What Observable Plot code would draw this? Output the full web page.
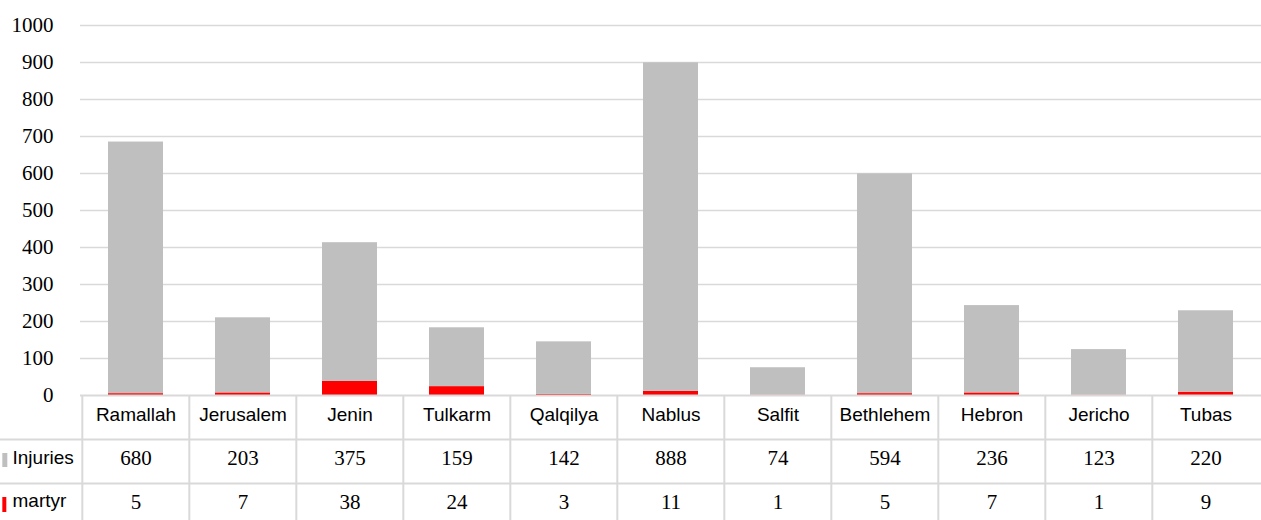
<!DOCTYPE html>
<html><head><meta charset="utf-8">
<script src="https://cdn.jsdelivr.net/npm/d3@7"></script>
<script src="https://cdn.jsdelivr.net/npm/@observablehq/plot@0.6"></script>
<style>body{margin:0;background:#fff}</style>
</head><body><div id="chart"></div>
<script>
const districts = ["Ramallah","Jerusalem","Jenin","Tulkarm","Qalqilya","Nablus","Salfit","Bethlehem","Hebron","Jericho","Tubas"];
const injuries = [680,203,375,159,142,888,74,594,236,123,220];
const martyrs = [5,7,38,24,3,11,1,5,7,1,9];
const yTicks = [0,100,200,300,400,500,600,700,800,900,1000];
const seriesNames = ["Injuries","martyr"];
const seriesColors = ["#bfbfbf","#ff0000"];

const W = 1261, H = 520, ML = 80, MR = 0, MT = 25, MB = 125;
const step = (W - ML - MR) / districts.length;
const lineColor = "#d9d9d9";

const rows = [];
districts.forEach((d, i) => {
  rows.push({district: d, series: "martyr", value: martyrs[i]});
  rows.push({district: d, series: "Injuries", value: injuries[i]});
});
const injRows = districts.map((d, i) => ({district: d, v: injuries[i]}));
const marRows = districts.map((d, i) => ({district: d, v: martyrs[i]}));

const sans = "'Liberation Sans', Arial, sans-serif";
const serif = "'Liberation Serif', 'Times New Roman', serif";

const chart = Plot.plot({
  width: W, height: H,
  marginLeft: ML, marginRight: MR, marginTop: MT, marginBottom: MB,
  style: {fontFamily: serif, fontSize: "21px", color: "#000", background: "#fff"},
  x: {type: "band", domain: districts, paddingInner: 0.49, paddingOuter: 0.245, axis: null},
  y: {domain: [0, 1000], ticks: yTicks, tickSize: 0, tickPadding: 27, label: null, tickFormat: d => String(d)},
  color: {domain: seriesNames, range: seriesColors},
  marks: [
    Plot.ruleY(yTicks.filter(t => t > 0), {stroke: lineColor, strokeWidth: 1.5}),
    Plot.barY(rows, {x: "district", y: "value", fill: "series"}),
    // table lines
    Plot.ruleY([0], {stroke: lineColor, strokeWidth: 2}),
    Plot.ruleY([0], {stroke: lineColor, strokeWidth: 2, dy: 44, insetLeft: -ML}),
    Plot.ruleY([0], {stroke: lineColor, strokeWidth: 2, dy: 88, insetLeft: -ML}),
    Plot.ruleX(districts, {x: d => d, dx: -step / 2, y1: 0, y2: 0, insetBottom: -MB, stroke: lineColor, strokeWidth: 2}),
    // header
    Plot.text(districts, {x: d => d, text: d => d, frameAnchor: "bottom", lineAnchor: "middle", dy: 19, fontFamily: sans, fontSize: 19, fill: "#000"}),
    Plot.text(injRows, {x: "district", text: d => String(d.v), frameAnchor: "bottom", lineAnchor: "middle", dy: 63, fontFamily: serif, fontSize: 21, fill: "#000"}),
    Plot.text(marRows, {x: "district", text: d => String(d.v), frameAnchor: "bottom", lineAnchor: "middle", dy: 107, fontFamily: serif, fontSize: 21, fill: "#000"}),
    // row labels
    Plot.text([seriesNames[0]], {text: d => d, frameAnchor: "bottom-left", lineAnchor: "middle", textAnchor: "start", dx: 12 - ML, dy: 62, fontFamily: sans, fontSize: 19, fill: "#000"}),
    Plot.text([seriesNames[1]], {text: d => d, frameAnchor: "bottom-left", lineAnchor: "middle", textAnchor: "start", dx: 12 - ML, dy: 105, fontFamily: sans, fontSize: 19, fill: "#000"}),
    // legend markers
    Plot.ruleX([districts[0]], {x: d => d, dx: 2.5 - (ML + step / 2), y1: 0, y2: 0, insetTop: 58, insetBottom: -72, stroke: seriesColors[0], strokeWidth: 5}),
    Plot.ruleX([districts[0]], {x: d => d, dx: 2 - (ML + step / 2), y1: 0, y2: 0, insetTop: 102, insetBottom: -117, stroke: seriesColors[1], strokeWidth: 4})
  ]
});
document.getElementById("chart").appendChild(chart);
</script>
</body></html>
